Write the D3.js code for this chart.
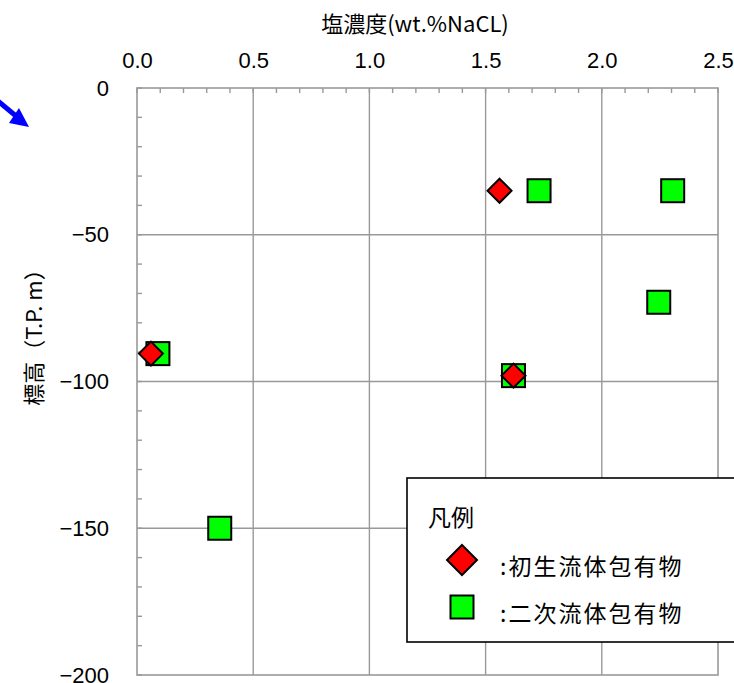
<!DOCTYPE html>
<html>
<head>
<meta charset="utf-8">
<script src="https://cdn.jsdelivr.net/npm/d3@7"></script>
<style>
  body { margin: 0; background: #fff; }
  text { font-family: "Liberation Sans", "Noto Sans CJK JP", sans-serif; fill: #000; }
  .jp { font-family: "Noto Sans CJK JP", sans-serif; }
</style>
</head>
<body>
<div id="chart"></div>
<script>
// datos
var primarySalt = [1.56, 0.06, 1.62];      // 初生流体包有物
var primaryElev = [-35, -90.5, -98];
var secondarySalt = [0.09, 1.73, 2.305, 2.245, 1.62, 0.356]; // 二次流体包有物
var secondaryElev = [-90.5, -35, -35, -73, -98, -150];
var xTicks = [0, 0.5, 1.0, 1.5, 2.0, 2.5];
var yTicks = [0, -50, -100, -150, -200];
var legendLabels = [":初生流体包有物", ":二次流体包有物"];

var width = 734, height = 683;
var plot = {left: 137, right: 718, top: 88, bottom: 675};

var svg = d3.select("#chart").append("svg")
  .attr("width", width)
  .attr("height", height);

var x = d3.scaleLinear().domain([0, 2.5]).range([plot.left, plot.right]);
var y = d3.scaleLinear().domain([0, -200]).range([plot.top, plot.bottom]);

var gridColor = "#999";

// rejilla
svg.append("g")
  .selectAll("line")
  .data(xTicks.slice(1, -1))
  .enter().append("line")
  .attr("x1", function(d) { return x(d); })
  .attr("x2", function(d) { return x(d); })
  .attr("y1", plot.top).attr("y2", plot.bottom)
  .style("stroke", gridColor).style("stroke-width", 1.4);

svg.append("g")
  .selectAll("line")
  .data(yTicks.slice(1, -1))
  .enter().append("line")
  .attr("y1", function(d) { return y(d); })
  .attr("y2", function(d) { return y(d); })
  .attr("x1", plot.left).attr("x2", plot.right)
  .style("stroke", gridColor).style("stroke-width", 1.4);

// ticks menores (hacia dentro)
var minorX = d3.range(0, 2.5001, 0.1);
var minorY = d3.range(0, -200.001, -10);

svg.append("g")
  .selectAll("line")
  .data(minorX)
  .enter().append("line")
  .attr("x1", function(d) { return x(d); })
  .attr("x2", function(d) { return x(d); })
  .attr("y1", plot.top).attr("y2", plot.top + 5)
  .style("stroke", gridColor).style("stroke-width", 1.4);

svg.append("g")
  .selectAll("line")
  .data(minorY)
  .enter().append("line")
  .attr("y1", function(d) { return y(d); })
  .attr("y2", function(d) { return y(d); })
  .attr("x1", plot.left).attr("x2", plot.left + 5)
  .style("stroke", gridColor).style("stroke-width", 1.4);

// marco
svg.append("rect")
  .attr("x", plot.left).attr("y", plot.top)
  .attr("width", plot.right - plot.left)
  .attr("height", plot.bottom - plot.top)
  .style("fill", "none")
  .style("stroke", gridColor)
  .style("stroke-width", 1.6);

// etiquetas de ejes
var xAxis = d3.axisTop(x).tickValues(xTicks).tickFormat(d3.format(".1f")).tickSize(0).tickPadding(0);
var gx = svg.append("g")
  .attr("transform", "translate(0,68)")
  .call(xAxis);
gx.select(".domain").remove();
gx.selectAll("text").style("font-size", "22px");

var yAxis = d3.axisLeft(y).tickValues(yTicks).tickFormat(d3.format("d")).tickSize(0).tickPadding(0);
var gy = svg.append("g")
  .attr("transform", "translate(109,0)")
  .call(yAxis);
gy.select(".domain").remove();
gy.selectAll("text").style("font-size", "22px");

svg.append("text")
  .attr("class", "jp")
  .attr("x", 415).attr("y", 32)
  .attr("text-anchor", "middle")
  .style("font-size", "22px")
  .text("塩濃度(wt.%NaCL)");

svg.append("text")
  .attr("class", "jp")
  .attr("transform", "translate(42,332) rotate(-90)")
  .attr("text-anchor", "middle")
  .style("font-size", "22px")
  .text("標高（T.P. m）");

// flecha azul
svg.append("line")
  .attr("x1", -2).attr("y1", 101)
  .attr("x2", 16).attr("y2", 116)
  .style("stroke", "#0000ff")
  .style("stroke-width", 5);
svg.append("path")
  .attr("d", "M29,127 L9,123 L19,108 Z")
  .style("fill", "#0000ff");

// puntos
var primary = primarySalt.map(function(v, i) { return {s: v, e: primaryElev[i]}; });
var secondary = secondarySalt.map(function(v, i) { return {s: v, e: secondaryElev[i]}; });

svg.selectAll("rect.sec")
  .data(secondary)
  .enter().append("rect")
  .attr("class", "sec")
  .attr("x", function(d) { return x(d.s) - 11.5; })
  .attr("y", function(d) { return y(d.e) - 11.5; })
  .attr("width", 23).attr("height", 23)
  .style("fill", "#00ff00")
  .style("stroke", "#000")
  .style("stroke-width", 2);

var diamond = "M0,-12 L12,0 L0,12 L-12,0 Z";
svg.selectAll("path.pri")
  .data(primary)
  .enter().append("path")
  .attr("class", "pri")
  .attr("d", diamond)
  .attr("transform", function(d) { return "translate(" + x(d.s) + "," + y(d.e) + ")"; })
  .style("fill", "#ff0000")
  .style("stroke", "#000")
  .style("stroke-width", 2);

// leyenda
var lg = svg.append("g");
lg.append("rect")
  .attr("x", 407).attr("y", 478)
  .attr("width", 340).attr("height", 164)
  .style("fill", "#fff")
  .style("stroke", "#000")
  .style("stroke-width", 1.6);

lg.append("text")
  .attr("class", "jp")
  .attr("x", 428).attr("y", 526)
  .style("font-size", "23px")
  .text("凡例");

lg.append("path")
  .attr("d", "M0,-15 L15,0 L0,15 L-15,0 Z")
  .attr("transform", "translate(462,560)")
  .style("fill", "#ff0000")
  .style("stroke", "#000")
  .style("stroke-width", 2);

lg.append("rect")
  .attr("x", 450.5).attr("y", 595.5)
  .attr("width", 23).attr("height", 23)
  .style("fill", "#00ff00")
  .style("stroke", "#000")
  .style("stroke-width", 2);

lg.selectAll("text.lab")
  .data(legendLabels)
  .enter().append("text")
  .attr("class", "jp lab")
  .attr("x", 500)
  .attr("y", function(d, i) { return 575 + i * 47; })
  .style("font-size", "23px")
  .style("letter-spacing", "2px")
  .text(function(d) { return d; });
</script>
</body>
</html>
